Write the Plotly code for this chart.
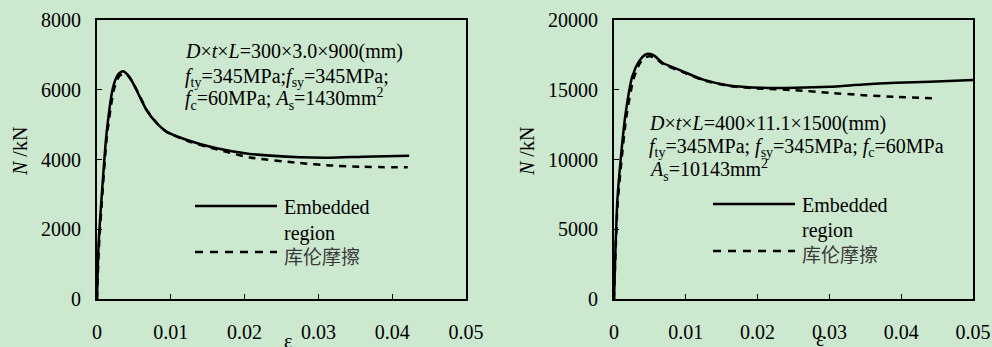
import plotly.graph_objects as go

# ---------------- data ----------------
left_strain_emb = [0, 0.0002, 0.0006, 0.0013, 0.0022, 0.0029, 0.0035, 0.0042, 0.0049, 0.0058,
                   0.0067, 0.0081, 0.0094, 0.0122, 0.0162, 0.0207, 0.0275, 0.0316, 0.036, 0.0423]
left_N_emb = [0, 1500, 2840, 4760, 6090, 6450, 6530, 6420, 6185, 5800,
              5420, 5040, 4800, 4560, 4320, 4160, 4063, 4050, 4080, 4110]

left_strain_cf = [0, 0.00025, 0.00065, 0.00135, 0.0023, 0.003, 0.0036, 0.0043, 0.005, 0.0059,
                  0.0068, 0.0082, 0.0095, 0.0123, 0.0162, 0.0207, 0.0275, 0.0316, 0.036, 0.0421]
left_N_cf = [0, 1450, 2770, 4680, 6020, 6390, 6470, 6380, 6150, 5770,
             5400, 5020, 4780, 4530, 4290, 4060, 3900, 3830, 3790, 3775]

right_strain_emb = [0, 0.0002, 0.00047, 0.00093, 0.00163, 0.00256, 0.0035, 0.0043, 0.0049, 0.0056,
                    0.00675, 0.0095, 0.0123, 0.016, 0.0207, 0.0253, 0.03, 0.0347, 0.0393, 0.044, 0.05]
right_N_emb = [0, 3500, 7100, 10000, 13350, 15980, 17050, 17500, 17580, 17450,
               16940, 16340, 15740, 15310, 15140, 15140, 15210, 15380, 15500, 15570, 15690]

right_strain_cf = [0, 0.0002, 0.0005, 0.001, 0.0017, 0.0027, 0.0036, 0.0044, 0.005, 0.0057,
                   0.0068, 0.0095, 0.0123, 0.016, 0.0207, 0.0253, 0.03, 0.0347, 0.0393, 0.0449]
right_N_cf = [0, 3200, 6800, 9700, 13000, 15750, 16900, 17330, 17400, 17300,
              16850, 16280, 15700, 15270, 15070, 14970, 14780, 14610, 14490, 14370]

x_tickvals = [0, 0.01, 0.02, 0.03, 0.04, 0.05]
x_ticktext = ["0", "0.01", "0.02", "0.03", "0.04", "0.05"]
left_y_ticks = [0, 2000, 4000, 6000, 8000]
right_y_ticks = [0, 5000, 10000, 15000, 20000]

series_names = ["Embedded region", "库伦摩擦"]

# ---------------- layout helpers ----------------
W, H = 992, 347
BG = "#cce8cf"
SERIF = "'Liberation Serif', 'Times New Roman', serif"
CJK = "'Noto Sans CJK SC', sans-serif"


def px(x):
    return x / W


def py(y):
    return 1 - y / H


fig = go.Figure()

line_solid = dict(color="black", width=2.5, shape="spline", smoothing=0.6)
line_dash = dict(color="black", width=2.5, dash="7px,6px", shape="spline", smoothing=0.6)

fig.add_trace(go.Scatter(x=left_strain_cf, y=left_N_cf, mode="lines", line=line_dash,
                         name=series_names[1], xaxis="x", yaxis="y", showlegend=False))
fig.add_trace(go.Scatter(x=left_strain_emb, y=left_N_emb, mode="lines", line=line_solid,
                         name=series_names[0], xaxis="x", yaxis="y", showlegend=False))
fig.add_trace(go.Scatter(x=right_strain_cf, y=right_N_cf, mode="lines", line=line_dash,
                         name=series_names[1], xaxis="x2", yaxis="y2", showlegend=False))
fig.add_trace(go.Scatter(x=right_strain_emb, y=right_N_emb, mode="lines", line=line_solid,
                         name=series_names[0], xaxis="x2", yaxis="y2", showlegend=False))

axis_common = dict(showgrid=False, zeroline=False, showline=True, linecolor="black", linewidth=2,
                   mirror=True, ticks="inside", ticklen=5, tickwidth=1.2, tickcolor="black",
                   automargin=False,
                   tickfont=dict(family=SERIF, size=20, color="black"))

ydom = [py(299), py(20)]

fig.update_layout(
    template="none",
    width=W, height=H, autosize=False,
    margin=dict(l=0, r=0, t=0, b=0, pad=0),
    paper_bgcolor=BG, plot_bgcolor=BG,
    font=dict(family=SERIF, size=20, color="black"),
    showlegend=False,
    xaxis=dict(domain=[px(97), px(466)], range=[0, 0.05], tickvals=x_tickvals, ticktext=x_ticktext,
               anchor="y", ticklabelstandoff=14, **axis_common),
    yaxis=dict(domain=ydom, range=[0, 8000], tickvals=left_y_ticks,
               ticktext=[str(v) for v in left_y_ticks], anchor="x", ticklabelstandoff=10, **axis_common),
    xaxis2=dict(domain=[px(614), px(973)], range=[0, 0.05], tickvals=x_tickvals, ticktext=x_ticktext,
                anchor="y2", ticklabelstandoff=14, **axis_common),
    yaxis2=dict(domain=ydom, range=[0, 20000], tickvals=right_y_ticks,
                ticktext=[str(v) for v in right_y_ticks], anchor="x2", ticklabelstandoff=10, **axis_common),
)

annotations = []


def text(x, y, t, size=20, font=SERIF, color="black", xanchor="left", yanchor="middle", angle=0):
    annotations.append(dict(x=px(x), y=py(y), xref="paper", yref="paper", text=t, showarrow=False,
                            xanchor=xanchor, yanchor=yanchor, textangle=angle,
                            font=dict(family=font, size=size, color=color)))


# parameter blocks
text(183, 52, "<i>D</i>×<i>t</i>×<i>L</i>=300×3.0×900(mm)")
text(183, 77, "<i>f</i><sub>ty</sub>=345MPa;<i>f</i><sub>sy</sub>=345MPa;")
text(183, 99, "<i>f</i><sub>c</sub>=60MPa; <i>A</i><sub>s</sub>=1430mm<sup>2</sup>")

text(647, 123, "<i>D</i>×<i>t</i>×<i>L</i>=400×11.1×1500(mm)")
text(647, 148, "<i>f</i><sub>ty</sub>=345MPa; <i>f</i><sub>sy</sub>=345MPa; <i>f</i><sub>c</sub>=60MPa")
text(647, 170, "<i>A</i><sub>s</sub>=10143mm<sup>2</sup>")

# axis titles
text(20, 152, "<i>N</i> /kN", xanchor="center", angle=-90)
text(527, 152, "<i>N</i> /kN", xanchor="center", angle=-90)
text(288, 341, "ε", xanchor="center")
text(820, 339, "ε", xanchor="center")

# legends (drawn manually)
shapes = []


def legend(x0, x1, ys, yd, yt1, yt2, ytc):
    shapes.append(dict(type="line", xref="paper", yref="paper", x0=px(x0), x1=px(x1), y0=py(ys), y1=py(ys),
                       line=dict(color="black", width=2.5)))
    shapes.append(dict(type="line", xref="paper", yref="paper", x0=px(x0), x1=px(x1), y0=py(yd), y1=py(yd),
                       line=dict(color="black", width=2.5, dash="8px,7px")))
    text(x1 + 5, yt1, "Embedded")
    text(x1 + 5, yt2, "region")
    text(x1 + 5, ytc, series_names[1], size=19, font=CJK, color="#3a3a3a")


legend(195, 277, 206, 252, 207, 233, 255)
legend(713, 795, 204, 251, 205, 230, 253)

fig.update_layout(annotations=annotations, shapes=shapes)

fig.write_html(
    "out.html",
    config={"responsive": False, "displayModeBar": False},
    post_script="document.body.style.margin='0';document.body.style.padding='0';"
                "document.body.style.background='" + BG + "';",
)
